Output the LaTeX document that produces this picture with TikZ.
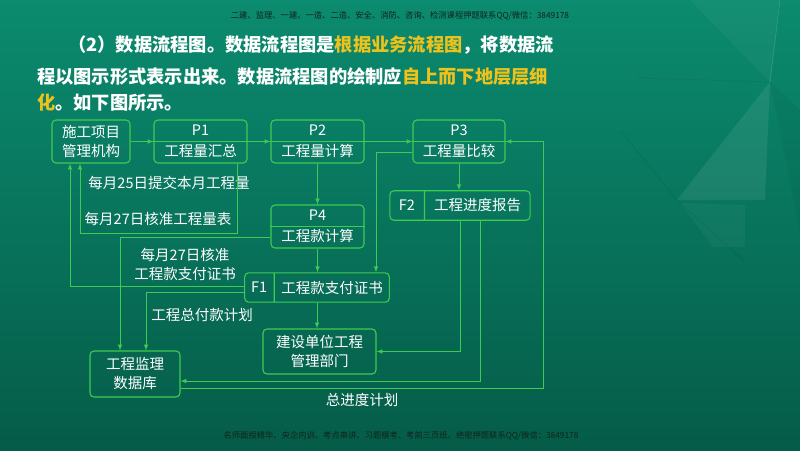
\documentclass[tikz,border=0pt]{standalone}
\usepackage{fontspec}
\setmainfont{Noto Sans CJK SC}
\usetikzlibrary{positioning, calc, shapes.multipart}
\definecolor{bgtop}{HTML}{0B8B6F}
\definecolor{bgbot}{HTML}{055C48}
\definecolor{boxline}{HTML}{3FCB52}
\definecolor{hilite}{HTML}{EEC21C}
\definecolor{wmark}{HTML}{10231D}
\newcommand{\yel}[1]{\textcolor{hilite}{#1}}
\tikzstyle{box} = [rectangle, rounded corners=4pt, draw=boxline, line width=1.1pt, text=white, align=center, font=\fontsize{14.5}{19}\selectfont]
\tikzstyle{proc} = [box, minimum width=93pt, minimum height=43pt, font=\fontsize{14.5}{21}\selectfont]
\tikzstyle{store} = [box, rectangle split, rectangle split horizontal, rectangle split parts=2, inner ysep=8pt]
\tikzstyle{divider} = [draw=boxline, line width=1.1pt]
\tikzstyle{myarrow} = [->, >=latex, draw=boxline, line width=1pt]
\tikzstyle{lbl} = [text=white, align=center, font=\fontsize{14.5}{19}\selectfont]
\tikzstyle{head} = [text=white, inner sep=0pt, font=\fontsize{18.25}{20}\selectfont\bfseries]
\tikzstyle{wm} = [text=wmark, inner sep=0pt, font=\fontsize{8.3}{9}\selectfont]
\begin{document}
\begin{tikzpicture}[x=1pt, y=-1pt]
% background
\useasboundingbox (0,0) rectangle (800,450);
\fill[top color=bgtop, bottom color=bgbot] (0,0) rectangle (800,450);
\fill[white, opacity=0.04] (690,0) -- (779,0) -- (770,82) -- cycle;
\fill[white, opacity=0.08] (770,82) -- (677,200) -- (765,200) -- cycle;
\fill[white, opacity=0.04] (680,203) -- (745,205) -- (745,247) -- (713,247) -- cycle;
\fill[black, opacity=0.04] (770,82) -- (800,110) -- (800,233) -- cycle;
\draw[black, opacity=0.07, line width=0.8pt] (620,130) -- (677,200) -- (745,262);
\draw[black, opacity=0.05, line width=0.8pt] (637,78) -- (770,82);
\draw[white, opacity=0.15, line width=0.8pt] (780,0) -- (770,82);
% heading
\node (wmtop) [wm] at (400,16) {二建、监理、一建、一造、二造、安全、消防、咨询、检测课程押题联系QQ/微信：3849178};
\node (line1) [head, anchor=east] at (554,45) {（2）数据流程图。数据流程图是\yel{根据业务流程图}，将数据流};
\node (line2) [head, anchor=west] at (37,77) {程以图示形式表示出来。数据流程图的绘制应\yel{自上而下地层层细}};
\node (line3) [head, anchor=west] at (37,103) {\yel{化}。如下图所示。};
\node (wmbot) [wm] at (401,436) {名师面授精华、央企内训、考点串讲、习题模考、考前三页纸、绝密押题联系QQ/微信：3849178};
% boxes
\node (org) [box, minimum width=78pt, minimum height=43pt] at (91,141.5) {施工项目\\管理机构};
\node (p1) [proc] at (200.5,141.5) {P1\\工程量汇总};
\node (p2) [proc] at (317.5,141.5) {P2\\工程量计算};
\node (p3) [proc, minimum width=92pt] at (459,141.5) {P3\\工程量比较};
\node (p4) [proc] at (317.5,226.5) {P4\\工程款计算};
\node (f2) [store, inner xsep=9pt] at (460,205.5) {F2\nodepart{two}工程进度报告};
\node (f1) [store, inner xsep=6.5pt] at (317,287.5) {F1\nodepart{two}工程款支付证书};
\node (dept) [box, minimum width=113pt, minimum height=45pt] at (319.5,351.5) {建设单位工程\\管理部门};
\node (db) [box, minimum width=90pt, minimum height=46pt] at (135,374) {工程监理\\数据库};
\foreach \n in {p1,p2,p3,p4}
  \draw[divider] (\n.west) -- (\n.east);
% labels
\node (sub25) [lbl] at (169,183) {每月25日提交本月工程量};
\node (ok27) [lbl] at (158,219) {每月27日核准工程量表};
\node (cert27) [lbl] at (185,264.5) {每月27日核准\\工程款支付证书};
\node (payplan) [lbl] at (202,315) {工程总付款计划};
% flows
\draw [myarrow] (org) -- (p1);
\draw [myarrow] (p1) -- (p2);
\draw [myarrow] (p2) -- (p3);
\draw [myarrow] (p2) -- (p4);
\draw [myarrow] ([xshift=36.5pt]p1.south) -- ++(0,70) -| ([xshift=-11pt]org.south);
\draw [myarrow] ([yshift=1.5pt]f1.west) -| ([xshift=-21pt]org.south);
\draw [myarrow] ([yshift=-4.5pt]f1.west) -| ([xshift=11pt]db.north);
\draw [myarrow] ([yshift=-10.5pt]p4.west) -| ([xshift=-15pt]db.north);
\draw [myarrow] (p4.south) -- (p4.south |- f1.north);
\draw [myarrow] ([yshift=-10.5pt]p3.west) -| ([xshift=59pt]f1.north);
\draw [myarrow] (p3.south) -- (p3.south |- f2.north);
\draw [myarrow] (f1.south) -- (f1.south |- dept.north);
\draw [myarrow] (f2.south) |- (dept.east);
\draw [myarrow] ([xshift=20pt]f2.south) |- ([yshift=-7pt]db.east);
\draw [myarrow] ([yshift=-14pt]db.east) -| node (plan) [lbl, pos=0.25, below=1pt] {总进度计划} ([xshift=38pt]p3.east) -- (p3.east);
\end{tikzpicture}
\end{document}
